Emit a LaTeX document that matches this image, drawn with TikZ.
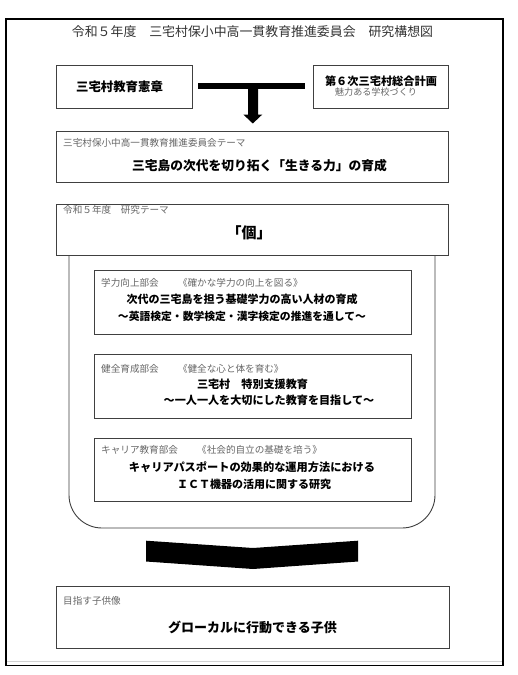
\documentclass[tikz,border=0pt]{standalone}
\usepackage{fontspec}
\newfontfamily\jp{Noto Sans CJK JP}
\tikzset{
  box/.style={draw=black!75, line width=0.9pt, anchor=north west, inner sep=0pt},
  txt/.style={inner sep=0pt, font=\jp, text=black},
  lbl/.style={inner sep=0pt, anchor=west, text=black!60, font=\jp\fontsize{9.6pt}{11pt}\selectfont},
  bold/.style={font=\jp\bfseries\fontsize{#1}{#1}\selectfont},
}
\begin{document}
\begin{tikzpicture}[x=1pt,y=-1pt]
\useasboundingbox (0,0) rectangle (517,675);
\fill[white] (0,0) rectangle (517,675);
% page frame
\draw[gray!35, line width=1.4pt] (7,661.5) -- (502,661.5);
\draw[line width=1.3pt] (6,19) rectangle (503,665.5);

% title
\node[txt, text=black!80, font=\jp\fontsize{12.9pt}{14pt}\selectfont] (title) at (252.5,32) {令和５年度　三宅村保小中高一貫教育推進委員会　研究構想図};

% top boxes
\node[box, minimum width=136pt, minimum height=43pt] (b1) at (56,65) {};
\node[txt, bold=12.4pt] (b1t) at (119.5,86.5) {三宅村教育憲章};
\node[box, minimum width=135pt, minimum height=43pt] (b2) at (313,65) {};
\node[txt, bold=11.2pt] (b2t) at (381,81.5) {第６次三宅村総合計画};
\node[txt, text=black!60, font=\jp\fontsize{9.1pt}{10pt}\selectfont] (b2s) at (376,92.3) {魅力ある学校づくり};

% T-junction arrow
\coordinate (barL) at (198,86.3);
\coordinate (barR) at (305,86.3);
\draw[line width=6pt] (barL) -- (barR);
\fill (248,88) -- (258,88) -- (258,114.5) -- (262.3,114.5) -- (252.8,123.5) -- (243.3,114.5) -- (248,114.5) -- cycle;

% theme box
\node[box, minimum width=392pt, minimum height=51pt] (b3) at (56,131) {};
\node[lbl] (b3l) at (63,143.3) {三宅村保小中高一貫教育推進委員会テーマ};
\node[txt, bold=12.75pt] (b3t) at (259.5,166) {三宅島の次代を切り拓く「生きる力」の育成};

% research theme box
\node[box, minimum width=392pt, minimum height=51pt] (b4) at (56,204) {};
\node[lbl] (b4l) at (63,209.5) {令和５年度　研究テーマ};
\node[txt, bold=15pt] (b4t) at (249,233.3) {「個」};

% container
\draw[black!75, line width=0.9pt, rounded corners=33pt] (69,255) -- (69,528) -- (435,528) -- (435,255);

% inner boxes
\node[box, minimum width=317pt, minimum height=64pt] (i1) at (94,270) {};
\node[lbl] (i1l) at (101,283) {学力向上部会　　《確かな学力の向上を図る》};
\node[txt, bold=11pt] (i1a) at (242,299.5) {次代の三宅島を担う基礎学力の高い人材の育成};
\node[txt, bold=10.8pt] (i1b) at (242,316.5) {～英語検定・数学検定・漢字検定の推進を通して～};

\node[box, minimum width=317pt, minimum height=64pt] (i2) at (94,354) {};
\node[lbl] (i2l) at (101,369) {健全育成部会　　《健全な心と体を育む》};
\node[txt, bold=11.1pt] (i2a) at (252.5,384.5) {三宅村　特別支援教育};
\node[txt, bold=11.1pt] (i2b) at (269,400.7) {～一人一人を大切にした教育を目指して～};

\node[box, minimum width=317pt, minimum height=63pt] (i3) at (94,438) {};
\node[lbl] (i3l) at (101,450.3) {キャリア教育部会　　《社会的自立の基礎を培う》};
\node[txt, bold=11.2pt] (i3a) at (252,467.3) {キャリアパスポートの効果的な運用方法における};
\node[txt, bold=11pt] (i3b) at (254,484) {ＩＣＴ機器の活用に関する研究};

% chevron
\fill (146,540.7) -- (253,548) -- (358,540.7) -- (358,561.5) -- (253,569) -- (146,561.5) -- cycle;

% goal box
\node[box, minimum width=393pt, minimum height=62pt] (b5) at (56,586) {};
\node[lbl] (b5l) at (63,601.3) {目指す子供像};
\node[txt, bold=13pt] (b5t) at (252.5,627) {グローカルに行動できる子供};
\end{tikzpicture}
\end{document}
